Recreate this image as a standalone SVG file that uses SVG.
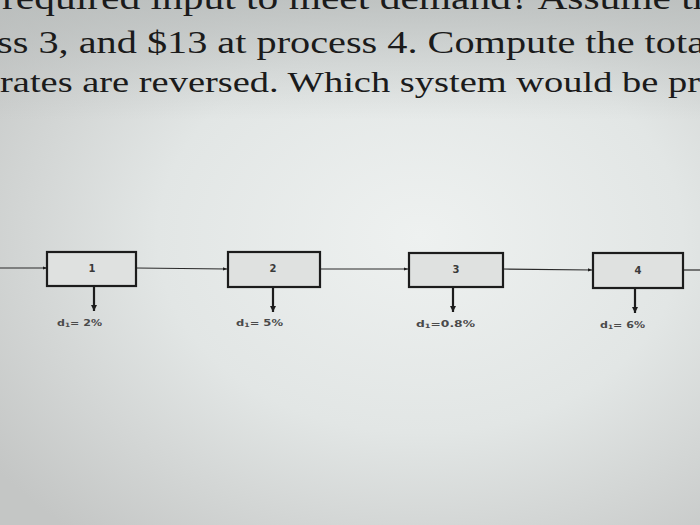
<svg xmlns="http://www.w3.org/2000/svg" width="700" height="525" viewBox="0 0 700 525">
<defs>
<radialGradient id="bg" cx="0.6" cy="0.45" r="0.75">
<stop offset="0" stop-color="#eef1f0"/>
<stop offset="0.5" stop-color="#e2e6e5"/>
<stop offset="1" stop-color="#c4c6c5"/>
</radialGradient>
<linearGradient id="top" x1="0" y1="0" x2="0" y2="1">
<stop offset="0" stop-color="#b8bcbb" stop-opacity="0.8"/>
<stop offset="1" stop-color="#b8bcbb" stop-opacity="0"/>
</linearGradient>
<marker id="ah" viewBox="0 0 10 10" refX="10" refY="5" markerWidth="5" markerHeight="4" orient="auto" markerUnits="userSpaceOnUse">
<path d="M0,1 L10,5 L0,9 Z" fill="#1c1c1c"/>
</marker>
<marker id="ahd" viewBox="0 0 10 10" refX="10" refY="5" markerWidth="6" markerHeight="6" orient="auto" markerUnits="userSpaceOnUse">
<path d="M0,0 L10,5 L0,10 Z" fill="#1c1c1c"/>
</marker>
</defs>
<style>
.t{font-family:"Liberation Serif","Times New Roman",serif;fill:#1b1b1b}
.box{fill:#dfe1e0;stroke:#1c1c1c;stroke-width:2.2}
.num{font-family:"DejaVu Sans",Verdana,sans-serif;font-size:10px;font-weight:bold;fill:#3a3a3a;text-anchor:middle}
.lbl{font-family:"DejaVu Sans",Verdana,sans-serif;font-size:9px;font-weight:bold;fill:#4a4a4a}
.c{stroke:#2a2a2a;stroke-width:1.2;fill:none}
.d{stroke:#1c1c1c;stroke-width:2.2;fill:none}
</style>
<rect width="700" height="525" fill="url(#bg)"/>
<rect width="700" height="120" fill="url(#top)"/>
<text class="t" x="2" y="9" font-size="34" textLength="730" lengthAdjust="spacingAndGlyphs">required input to meet demand? Assume the</text>
<text class="t" x="-3" y="53" font-size="32" textLength="708" lengthAdjust="spacingAndGlyphs">ss 3, and $13 at process 4. Compute the tota</text>
<text class="t" x="0" y="92" font-size="30" textLength="700" lengthAdjust="spacingAndGlyphs">rates are reversed. Which system would be pr</text>
<g id="connectors">
<line class="c" x1="0" y1="268" x2="47" y2="268" marker-end="url(#ah)"/>
<line class="c" x1="136" y1="268" x2="227" y2="269" marker-end="url(#ah)"/>
<line class="c" x1="320" y1="269" x2="408" y2="269" marker-end="url(#ah)"/>
<line class="c" x1="503" y1="269" x2="592" y2="270" marker-end="url(#ah)"/>
<line class="c" x1="683" y1="270" x2="700" y2="270"/>
<line class="d" x1="94" y1="286" x2="94" y2="311" marker-end="url(#ahd)"/>
<line class="d" x1="273" y1="287" x2="273" y2="312" marker-end="url(#ahd)"/>
<line class="d" x1="453" y1="287" x2="453" y2="312" marker-end="url(#ahd)"/>
<line class="d" x1="635" y1="288" x2="635" y2="313" marker-end="url(#ahd)"/>
</g>
<g id="node1"><rect class="box" x="47" y="252" width="89" height="34"/><text class="num" x="92" y="272">1</text><text class="lbl" x="57" y="326" textLength="45" lengthAdjust="spacingAndGlyphs">d<tspan font-size="6" dy="1">1</tspan><tspan dy="-1">= 2%</tspan></text></g>
<g id="node2"><rect class="box" x="228" y="252" width="92" height="35"/><text class="num" x="273" y="272">2</text><text class="lbl" x="236" y="326" textLength="47" lengthAdjust="spacingAndGlyphs">d<tspan font-size="6" dy="1">1</tspan><tspan dy="-1">= 5%</tspan></text></g>
<g id="node3"><rect class="box" x="409" y="253" width="94" height="34"/><text class="num" x="456" y="273">3</text><text class="lbl" x="416" y="327" textLength="59" lengthAdjust="spacingAndGlyphs">d<tspan font-size="6" dy="1">1</tspan><tspan dy="-1">=0.8%</tspan></text></g>
<g id="node4"><rect class="box" x="593" y="253" width="90" height="35"/><text class="num" x="638" y="274">4</text><text class="lbl" x="600" y="328" textLength="45" lengthAdjust="spacingAndGlyphs">d<tspan font-size="6" dy="1">1</tspan><tspan dy="-1">= 6%</tspan></text></g>
</svg>
